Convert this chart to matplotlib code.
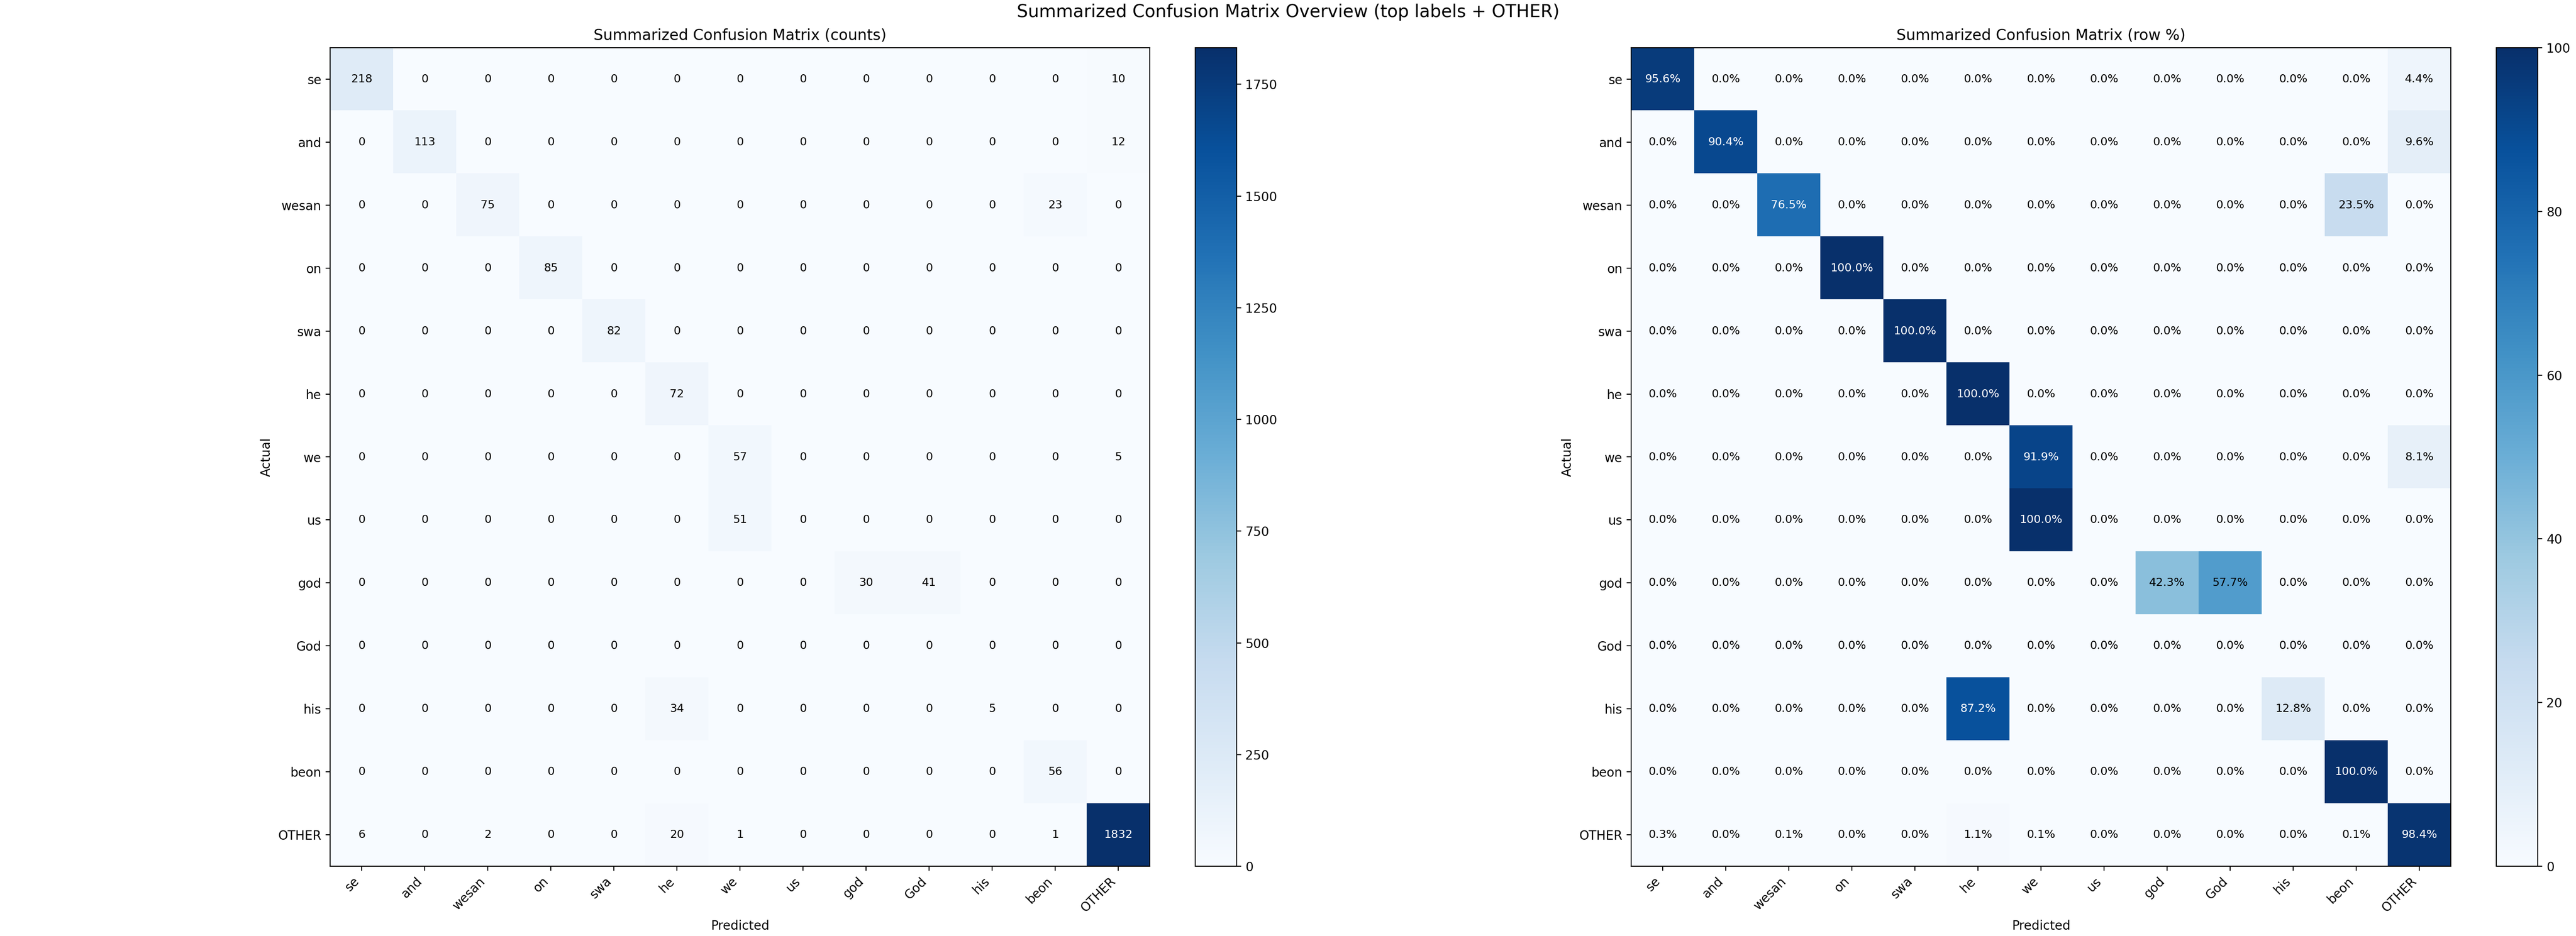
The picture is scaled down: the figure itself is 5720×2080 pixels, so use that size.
import numpy as np
import matplotlib
matplotlib.use("Agg")
import matplotlib.pyplot as plt

labels = ["se", "and", "wesan", "on", "swa", "he", "we", "us", "god", "God", "his", "beon", "OTHER"]

# rows = actual, columns = predicted
row_se    = [218, 0, 0, 0, 0, 0, 0, 0, 0, 0, 0, 0, 10]
row_and   = [0, 113, 0, 0, 0, 0, 0, 0, 0, 0, 0, 0, 12]
row_wesan = [0, 0, 75, 0, 0, 0, 0, 0, 0, 0, 0, 23, 0]
row_on    = [0, 0, 0, 85, 0, 0, 0, 0, 0, 0, 0, 0, 0]
row_swa   = [0, 0, 0, 0, 82, 0, 0, 0, 0, 0, 0, 0, 0]
row_he    = [0, 0, 0, 0, 0, 72, 0, 0, 0, 0, 0, 0, 0]
row_we    = [0, 0, 0, 0, 0, 0, 57, 0, 0, 0, 0, 0, 5]
row_us    = [0, 0, 0, 0, 0, 0, 51, 0, 0, 0, 0, 0, 0]
row_god   = [0, 0, 0, 0, 0, 0, 0, 0, 30, 41, 0, 0, 0]
row_God   = [0, 0, 0, 0, 0, 0, 0, 0, 0, 0, 0, 0, 0]
row_his   = [0, 0, 0, 0, 0, 34, 0, 0, 0, 0, 5, 0, 0]
row_beon  = [0, 0, 0, 0, 0, 0, 0, 0, 0, 0, 0, 56, 0]
row_other = [6, 0, 2, 0, 0, 20, 1, 0, 0, 0, 0, 1, 1832]

counts = np.array([row_se, row_and, row_wesan, row_on, row_swa, row_he, row_we,
                   row_us, row_god, row_God, row_his, row_beon, row_other], dtype=float)
row_sums = counts.sum(axis=1, keepdims=True)
pct = np.divide(counts * 100.0, row_sums, out=np.zeros_like(counts), where=row_sums > 0)

W, H, DPI = 5720, 2080, 200
fig = plt.figure(figsize=(W / DPI, H / DPI + 0.0001), dpi=DPI)

def fx(px):
    return px / W

def fy_bottom(px_bottom):
    return (H - px_bottom) / H

ax_w = fx(1820)
ax_h = 1819 / H
y0 = fy_bottom(1925)

ax1 = fig.add_axes([fx(733), y0, ax_w, ax_h])
cax1 = fig.add_axes([fx(2654), y0, fx(92), ax_h])
ax2 = fig.add_axes([fx(3622), y0, ax_w, ax_h])
cax2 = fig.add_axes([fx(5543), y0, fx(92), ax_h])

def draw(ax, cax, data, title, fmt, thresh_frac):
    im = ax.imshow(data, cmap="Blues", interpolation="nearest", aspect="auto")
    fig.colorbar(im, cax=cax)
    n = len(labels)
    ax.set_xticks(np.arange(n))
    ax.set_yticks(np.arange(n))
    ax.set_xticklabels(labels, rotation=45, ha="right")
    ax.set_yticklabels(labels)
    ax.set_xlabel("Predicted")
    ax.set_ylabel("Actual")
    ax.set_title(title, fontsize=12)
    thresh = data.max() * thresh_frac
    for i in range(n):
        for j in range(n):
            v = data[i, j]
            ax.text(j, i, fmt(v), ha="center", va="center", fontsize=9,
                    color="white" if v > thresh else "black")

draw(ax1, cax1, counts, "Summarized Confusion Matrix (counts)",
     lambda v: f"{int(v)}", 0.5)
draw(ax2, cax2, pct, "Summarized Confusion Matrix (row %)",
     lambda v: f"{v:.1f}%", 0.6)

fig.text(0.5, 1 - 37.5 / H, "Summarized Confusion Matrix Overview (top labels + OTHER)",
         ha="center", va="baseline", fontsize=14)

fig.savefig("out.png", dpi=DPI)
